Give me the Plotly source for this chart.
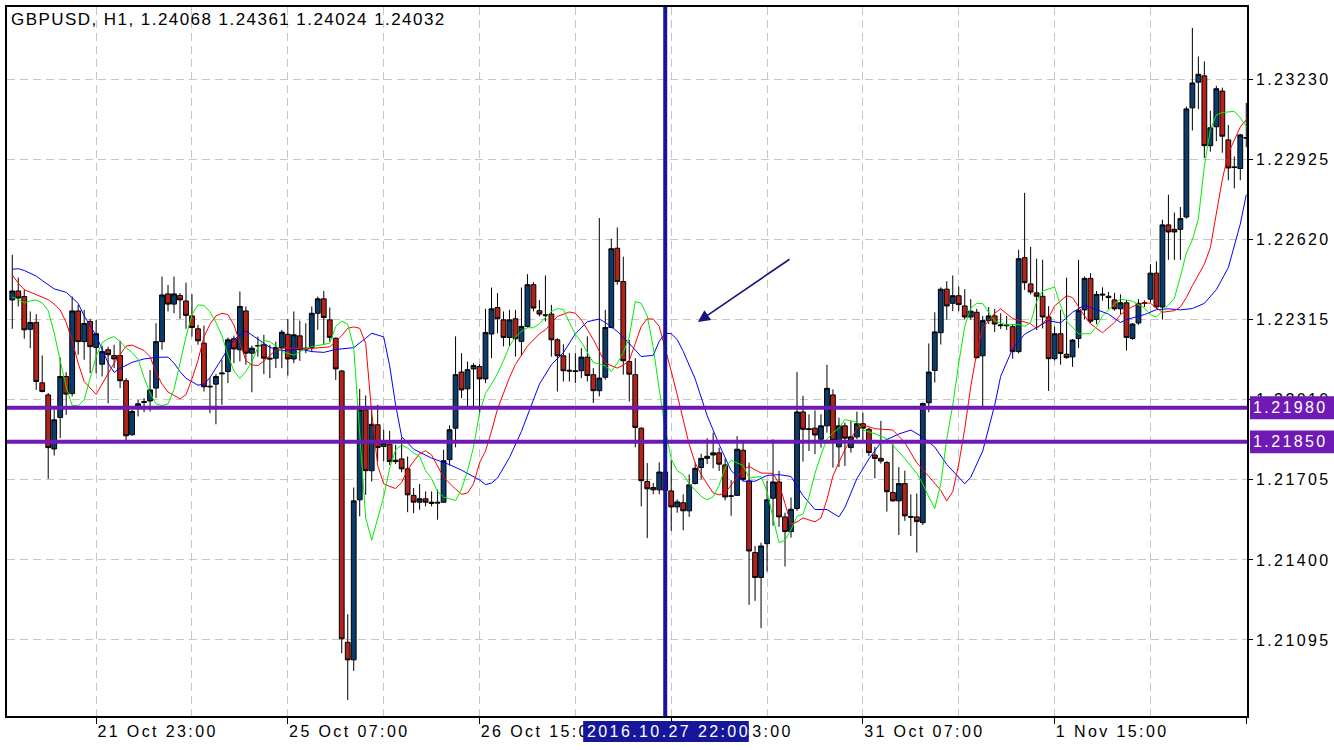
import plotly.graph_objects as go

chart_title = "GBPUSD, H1, 1.24068 1.24361 1.24024 1.24032"

opens = [
    1.22391, 1.22425, 1.22404, 1.22279, 1.22305, 1.22075, 1.22029, 1.21823, 1.21943, 1.22099,
    1.22034, 1.22349, 1.22232, 1.22309, 1.22210, 1.22146, 1.22201, 1.22179, 1.22179, 1.22083,
    1.21877, 1.21985, 1.22000, 1.22006, 1.22055, 1.22232, 1.22414, 1.22375, 1.22408, 1.22387,
    1.22330, 1.22281, 1.22226, 1.22062, 1.22070, 1.22109, 1.22118, 1.22243, 1.22201, 1.22349,
    1.22188, 1.22217, 1.22220, 1.22169, 1.22169, 1.22210, 1.22260, 1.22166, 1.22254, 1.22207,
    1.22210, 1.22340, 1.22395, 1.22315, 1.22245, 1.22120, 1.21086, 1.21019, 1.21629, 1.21972,
    1.21740, 1.21915, 1.21832, 1.21841, 1.21780, 1.21785, 1.21747, 1.21646, 1.21620, 1.21633,
    1.21615, 1.21620, 1.21620, 1.21782, 1.21902, 1.22116, 1.22052, 1.22128, 1.22137, 1.22090,
    1.22261, 1.22362, 1.22315, 1.22248, 1.22319, 1.22233, 1.22290, 1.22449, 1.22350, 1.22334,
    1.22337, 1.22239, 1.22178, 1.22123, 1.22121, 1.22121, 1.22173, 1.22106, 1.22045, 1.22096,
    1.22286, 1.22588, 1.22461, 1.22156, 1.22106, 1.21902, 1.21699, 1.21676, 1.21667, 1.21735,
    1.21663, 1.21602, 1.21618, 1.21587, 1.21691, 1.21752, 1.21795, 1.21800, 1.21808, 1.21762,
    1.21644, 1.21646, 1.21818, 1.21701, 1.21428, 1.21333, 1.21462, 1.21635, 1.21697, 1.21564,
    1.21508, 1.21596, 1.21964, 1.21900, 1.21902, 1.21860, 1.21911, 1.22029, 1.21831, 1.21911,
    1.21828, 1.21869, 1.21919, 1.21898, 1.21800, 1.21787, 1.21771, 1.21657, 1.21625, 1.21691,
    1.21565, 1.21564, 1.21542, 1.21999, 1.22122, 1.22266, 1.22432, 1.22378, 1.22407, 1.22368,
    1.22326, 1.22344, 1.22178, 1.22312, 1.22330, 1.22296, 1.22296, 1.22289, 1.22194, 1.22552,
    1.22452, 1.22418, 1.22405, 1.22326, 1.22167, 1.22262, 1.22184, 1.22174, 1.22244, 1.22353,
    1.22473, 1.22316, 1.22413, 1.22405, 1.22391, 1.22357, 1.22380, 1.22244, 1.22303, 1.22380,
    1.22394, 1.22493, 1.22364, 1.22677, 1.22660, 1.22660, 1.22707, 1.23123, 1.23221, 1.23245,
    1.22979, 1.23051, 1.23187, 1.23001, 1.22898, 1.22892, 1.23010,
]

highs = [
    1.22563, 1.22476, 1.22430, 1.22347, 1.22337, 1.22179, 1.22036, 1.21972, 1.22171, 1.22115,
    1.22404, 1.22372, 1.22353, 1.22319, 1.22315, 1.22217, 1.22213, 1.22220, 1.22235, 1.22093,
    1.21972, 1.22010, 1.22016, 1.22124, 1.22302, 1.22480, 1.22448, 1.22480, 1.22417, 1.22457,
    1.22413, 1.22296, 1.22293, 1.22095, 1.22108, 1.22163, 1.22248, 1.22255, 1.22423, 1.22366,
    1.22217, 1.22251, 1.22258, 1.22220, 1.22232, 1.22277, 1.22319, 1.22347, 1.22312, 1.22302,
    1.22366, 1.22404, 1.22425, 1.22362, 1.22248, 1.22124, 1.21193, 1.21676, 1.22052, 1.22027,
    1.21985, 1.21991, 1.21896, 1.21892, 1.21839, 1.21867, 1.21794, 1.21674, 1.21689, 1.21661,
    1.21661, 1.21668, 1.21820, 1.21913, 1.22252, 1.22188, 1.22156, 1.22150, 1.22146, 1.22357,
    1.22438, 1.22417, 1.22347, 1.22353, 1.22353, 1.22438, 1.22489, 1.22459, 1.22391, 1.22484,
    1.22372, 1.22245, 1.22222, 1.22188, 1.22188, 1.22207, 1.22252, 1.22131, 1.22703, 1.22353,
    1.22624, 1.22667, 1.22556, 1.22239, 1.22169, 1.21905, 1.21769, 1.21693, 1.21772, 1.21790,
    1.21780, 1.21631, 1.21650, 1.21726, 1.21771, 1.21805, 1.21864, 1.21885, 1.21828, 1.21787,
    1.21704, 1.21872, 1.21847, 1.21771, 1.21453, 1.21466, 1.21701, 1.21860, 1.21739, 1.21580,
    1.21638, 1.22116, 1.22025, 1.21955, 1.21970, 1.21955, 1.22144, 1.22050, 1.21942, 1.21923,
    1.21930, 1.21965, 1.21961, 1.21904, 1.21831, 1.21930, 1.21777, 1.21841, 1.21754, 1.21740,
    1.21650, 1.21653, 1.22000, 1.22225, 1.22344, 1.22439, 1.22462, 1.22484, 1.22442, 1.22432,
    1.22394, 1.22357, 1.22330, 1.22364, 1.22357, 1.22340, 1.22330, 1.22299, 1.22582, 1.22799,
    1.22593, 1.22548, 1.22544, 1.22367, 1.22289, 1.22353, 1.22476, 1.22242, 1.22544, 1.22480,
    1.22493, 1.22425, 1.22439, 1.22421, 1.22418, 1.22412, 1.22391, 1.22303, 1.22394, 1.22389,
    1.22527, 1.22538, 1.22697, 1.22792, 1.22724, 1.22745, 1.23128, 1.23428, 1.23319, 1.23300,
    1.23112, 1.23207, 1.23200, 1.23058, 1.22938, 1.23024, 1.23142,
]

lows = [
    1.22281, 1.22366, 1.22243, 1.22207, 1.22048, 1.22039, 1.21709, 1.21798, 1.21864, 1.21953,
    1.22023, 1.22182, 1.22163, 1.22112, 1.22112, 1.22099, 1.21997, 1.22131, 1.22055, 1.21855,
    1.21874, 1.21947, 1.21963, 1.21966, 1.22017, 1.22201, 1.22347, 1.22340, 1.22319, 1.22281,
    1.22251, 1.22220, 1.22042, 1.21959, 1.21917, 1.21991, 1.22074, 1.22150, 1.22156, 1.22144,
    1.22039, 1.22175, 1.22108, 1.22093, 1.22131, 1.22131, 1.22103, 1.22150, 1.22159, 1.22188,
    1.22194, 1.22277, 1.22220, 1.22232, 1.22086, 1.21044, 1.20866, 1.20977, 1.21566, 1.21648,
    1.21699, 1.21775, 1.21775, 1.21762, 1.21765, 1.21734, 1.21582, 1.21578, 1.21591, 1.21604,
    1.21604, 1.21553, 1.21617, 1.21760, 1.21829, 1.22017, 1.21985, 1.21985, 1.21953, 1.22074,
    1.22169, 1.22264, 1.22214, 1.22214, 1.22175, 1.22179, 1.22286, 1.22347, 1.22328, 1.22309,
    1.22175, 1.22042, 1.22080, 1.22080, 1.22074, 1.22093, 1.22080, 1.21998, 1.22023, 1.22087,
    1.22283, 1.22449, 1.22106, 1.22004, 1.21829, 1.21604, 1.21483, 1.21650, 1.21650, 1.21640,
    1.21511, 1.21580, 1.21513, 1.21564, 1.21688, 1.21707, 1.21765, 1.21749, 1.21739, 1.21627,
    1.21568, 1.21644, 1.21701, 1.21229, 1.21244, 1.21140, 1.21356, 1.21530, 1.21526, 1.21375,
    1.21485, 1.21587, 1.21775, 1.21815, 1.21803, 1.21828, 1.21885, 1.21752, 1.21754, 1.21758,
    1.21809, 1.21860, 1.21847, 1.21796, 1.21711, 1.21767, 1.21584, 1.21622, 1.21495, 1.21549,
    1.21491, 1.21428, 1.21533, 1.21963, 1.22076, 1.22221, 1.22316, 1.22348, 1.22348, 1.22316,
    1.22316, 1.22167, 1.21984, 1.22299, 1.22269, 1.22280, 1.22276, 1.22167, 1.22187, 1.22429,
    1.22412, 1.22276, 1.22282, 1.22044, 1.22160, 1.22144, 1.22167, 1.22136, 1.22208, 1.22316,
    1.22303, 1.22299, 1.22388, 1.22357, 1.22350, 1.22337, 1.22198, 1.22239, 1.22296, 1.22364,
    1.22380, 1.22357, 1.22316, 1.22544, 1.22544, 1.22544, 1.22701, 1.23037, 1.23119, 1.22932,
    1.22956, 1.22996, 1.22952, 1.22847, 1.22816, 1.22847, 1.22973,
]

closes = [
    1.22425, 1.22398, 1.22277, 1.22305, 1.22080, 1.22042, 1.21828, 1.21934, 1.22099, 1.22032,
    1.22349, 1.22232, 1.22301, 1.22213, 1.22262, 1.22194, 1.22182, 1.22166, 1.22083, 1.21873,
    1.21966, 1.21995, 1.22003, 1.22048, 1.22232, 1.22410, 1.22375, 1.22414, 1.22391, 1.22332,
    1.22286, 1.22235, 1.22060, 1.22060, 1.22099, 1.22112, 1.22239, 1.22204, 1.22366, 1.22188,
    1.22207, 1.22216, 1.22169, 1.22166, 1.22210, 1.22268, 1.22166, 1.22258, 1.22201, 1.22204,
    1.22340, 1.22395, 1.22324, 1.22248, 1.22128, 1.21099, 1.21019, 1.21625, 1.21972, 1.21740,
    1.21917, 1.21828, 1.21845, 1.21775, 1.21775, 1.21747, 1.21648, 1.21620, 1.21633, 1.21620,
    1.21620, 1.21617, 1.21778, 1.21896, 1.22106, 1.22048, 1.22125, 1.22141, 1.22090, 1.22267,
    1.22357, 1.22319, 1.22248, 1.22315, 1.22243, 1.22290, 1.22449, 1.22360, 1.22337, 1.22332,
    1.22239, 1.22178, 1.22121, 1.22120, 1.22118, 1.22173, 1.22103, 1.22045, 1.22093, 1.22286,
    1.22586, 1.22461, 1.22159, 1.22108, 1.21905, 1.21702, 1.21671, 1.21667, 1.21735, 1.21665,
    1.21602, 1.21621, 1.21587, 1.21686, 1.21749, 1.21787, 1.21787, 1.21808, 1.21765, 1.21640,
    1.21643, 1.21822, 1.21707, 1.21434, 1.21333, 1.21453, 1.21629, 1.21697, 1.21564, 1.21508,
    1.21593, 1.21964, 1.21898, 1.21897, 1.21876, 1.21911, 1.22054, 1.21856, 1.21911, 1.21864,
    1.21869, 1.21919, 1.21902, 1.21809, 1.21787, 1.21777, 1.21660, 1.21625, 1.21691, 1.21568,
    1.21563, 1.21546, 1.21996, 1.22116, 1.22269, 1.22432, 1.22368, 1.22407, 1.22373, 1.22326,
    1.22348, 1.22171, 1.22312, 1.22330, 1.22299, 1.22293, 1.22293, 1.22194, 1.22548, 1.22457,
    1.22421, 1.22405, 1.22326, 1.22167, 1.22262, 1.22187, 1.22171, 1.22238, 1.22350, 1.22473,
    1.22310, 1.22412, 1.22410, 1.22400, 1.22357, 1.22380, 1.22248, 1.22299, 1.22378, 1.22378,
    1.22493, 1.22364, 1.22677, 1.22650, 1.22650, 1.22701, 1.23119, 1.23218, 1.23251, 1.22979,
    1.23047, 1.23196, 1.23015, 1.22894, 1.22896, 1.23020, 1.23008,
]

# Alligator lines (at bar indices)
jaw_bars = [0, 1, 2, 4, 5, 7, 9, 10, 11, 12, 14, 16, 17, 18, 20, 22, 24, 26, 27, 28, 29, 31, 32, 33,
            35, 37, 39, 41, 43, 45, 48, 50, 52, 54, 57, 59, 60, 62, 63, 64, 65, 67, 70, 73, 75, 78,
            79, 80, 81, 83, 85, 88, 90, 92, 94, 96, 98, 99, 101, 103, 105, 107, 108, 109, 110, 111,
            112, 114, 116, 118, 120, 122, 124, 126, 128, 130, 132, 134, 136, 138, 139, 141, 143, 145,
            148, 150, 152, 154, 156, 159, 160, 162, 164, 165, 167, 169, 171, 173, 175, 177, 179, 181,
            183, 185, 186, 189, 191, 193, 195, 197, 199, 201, 203, 205, 206]
jaw_vals = [1.22508, 1.22510, 1.22503, 1.22482, 1.22465, 1.22433, 1.22420, 1.22400, 1.22378, 1.22330,
            1.22255, 1.22150, 1.22115, 1.22130, 1.22153, 1.22166, 1.22172, 1.22173, 1.22150, 1.22118,
            1.22092, 1.22066, 1.22070, 1.22095, 1.22165, 1.22240, 1.22273, 1.22242, 1.22210, 1.22198,
            1.22204, 1.22194, 1.22191, 1.22202, 1.22209, 1.22245, 1.22264, 1.22250, 1.22140, 1.21990,
            1.21870, 1.21822, 1.21788, 1.21763, 1.21742, 1.21705, 1.21687, 1.21693, 1.21712, 1.21790,
            1.21890, 1.22070, 1.22144, 1.22190, 1.22262, 1.22308, 1.22318, 1.22305, 1.22271, 1.22225,
            1.22175, 1.22180, 1.22233, 1.22264, 1.22262, 1.22240, 1.22195, 1.22090, 1.21950, 1.21840,
            1.21740, 1.21700, 1.21700, 1.21722, 1.21725, 1.21718, 1.21645, 1.21592, 1.21592, 1.21564,
            1.21600, 1.21710, 1.21785, 1.21848, 1.21880, 1.21895, 1.21868, 1.21830, 1.21764, 1.21690,
            1.21715, 1.21815, 1.21990, 1.22100, 1.22205, 1.22260, 1.22287, 1.22312, 1.22303, 1.22344,
            1.22371, 1.22355, 1.22337, 1.22305, 1.22316, 1.22335, 1.22354, 1.22357, 1.22353, 1.22358,
            1.22378, 1.22430, 1.22514, 1.22680, 1.22792]

teeth_bars = [0, 1, 2, 4, 6, 7, 8, 9, 10, 11, 12, 14, 15, 17, 19, 20, 22, 23, 24, 25, 26, 28, 29, 30,
              31, 32, 33, 34, 35, 36, 37, 38, 39, 40, 41, 42, 43, 44, 45, 47, 49, 51, 53, 55, 56, 57,
              58, 59, 60, 61, 62, 63, 64, 65, 66, 68, 69, 70, 71, 72, 74, 75, 76, 77, 78, 79, 80, 81,
              83, 84, 86, 88, 89, 91, 93, 94, 95, 97, 99, 101, 102, 103, 104, 105, 106, 107, 108, 109,
              110, 111, 112, 113, 114, 115, 116, 117, 118, 119, 120, 122, 123, 124, 125, 127, 128, 129,
              130, 131, 132, 134, 135, 136, 137, 138, 139, 141, 142, 144, 147, 149, 151, 153, 155, 156,
              157, 158, 159, 160, 161, 162, 164, 165, 166, 167, 170, 171, 173, 174, 176, 177, 179, 180,
              182, 184, 185, 187, 189, 190, 192, 194, 195, 196, 197, 199, 200, 201, 202, 203, 205, 206]
teeth_vals = [1.22486, 1.22455, 1.22430, 1.22410, 1.22392, 1.22375, 1.22353, 1.22305, 1.22235, 1.22150,
              1.22080, 1.22031, 1.22070, 1.22150, 1.22215, 1.22219, 1.22198, 1.22175, 1.22115, 1.22070,
              1.22040, 1.22014, 1.22030, 1.22090, 1.22160, 1.22250, 1.22298, 1.22330, 1.22340, 1.22335,
              1.22295, 1.22230, 1.22160, 1.22143, 1.22141, 1.22158, 1.22180, 1.22200, 1.22207, 1.22207,
              1.22204, 1.22209, 1.22212, 1.22255, 1.22283, 1.22288, 1.22283, 1.22225, 1.21960, 1.21760,
              1.21690, 1.21680, 1.21672, 1.21695, 1.21745, 1.21805, 1.21816, 1.21800, 1.21760, 1.21715,
              1.21670, 1.21650, 1.21655, 1.21690, 1.21770, 1.21815, 1.21890, 1.21975, 1.22095, 1.22145,
              1.22215, 1.22262, 1.22277, 1.22328, 1.22345, 1.22340, 1.22315, 1.22240, 1.22150, 1.22131,
              1.22142, 1.22160, 1.22225, 1.22290, 1.22319, 1.22318, 1.22290, 1.22210, 1.22120, 1.22030,
              1.21930, 1.21840, 1.21770, 1.21725, 1.21690, 1.21655, 1.21648, 1.21655, 1.21685, 1.21745,
              1.21756, 1.21745, 1.21731, 1.21730, 1.21690, 1.21615, 1.21535, 1.21545, 1.21560, 1.21545,
              1.21560, 1.21630, 1.21720, 1.21772, 1.21820, 1.21902, 1.21915, 1.21900, 1.21895, 1.21847,
              1.21770, 1.21718, 1.21665, 1.21625, 1.21660, 1.21765, 1.21900, 1.22060, 1.22190, 1.22285,
              1.22340, 1.22357, 1.22340, 1.22320, 1.22300, 1.22282, 1.22323, 1.22368, 1.22407, 1.22400,
              1.22330, 1.22300, 1.22266, 1.22305, 1.22335, 1.22366, 1.22380, 1.22378, 1.22344, 1.22350,
              1.22364, 1.22400, 1.22445, 1.22527, 1.22590, 1.22720, 1.22850, 1.22950, 1.23050, 1.23078]

lips_bars = [0, 1, 2, 3, 4, 5, 6, 7, 8, 9, 10, 11, 12, 13, 14, 15, 16, 17, 18, 19, 20, 21, 22, 23, 24,
             25, 26, 27, 28, 29, 30, 31, 32, 33, 34, 35, 36, 37, 38, 39, 40, 41, 42, 43, 44, 45, 47, 48,
             49, 50, 52, 53, 54, 55, 56, 57, 58, 59, 60, 61, 62, 63, 64, 65, 66, 67, 68, 69, 70, 71, 72,
             74, 75, 76, 77, 78, 79, 80, 81, 82, 83, 84, 85, 86, 87, 88, 89, 90, 91, 92, 93, 94, 95, 96,
             97, 98, 99, 100, 101, 102, 103, 104, 105, 106, 107, 108, 109, 110, 111, 112, 113, 115, 116,
             117, 118, 119, 120, 122, 123, 125, 126, 127, 128, 129, 130, 131, 132, 133, 134, 135, 136,
             137, 138, 139, 141, 142, 144, 146, 147, 149, 151, 152, 153, 154, 155, 156, 157, 158, 159,
             160, 161, 162, 164, 166, 168, 169, 170, 171, 172, 174, 175, 176, 178, 180, 181, 182, 184,
             185, 187, 189, 190, 191, 193, 194, 195, 196, 197, 198, 199, 200, 201, 202, 204, 205, 206]
lips_vals = [1.22402, 1.22393, 1.22380, 1.22387, 1.22391, 1.22380, 1.22350, 1.22265, 1.22160, 1.22060,
             1.21988, 1.21988, 1.22010, 1.22092, 1.22175, 1.22228, 1.22243, 1.22251, 1.22232, 1.22209,
             1.22190, 1.22165, 1.22095, 1.22035, 1.21995, 1.21988, 1.21995, 1.22050, 1.22156, 1.22250,
             1.22335, 1.22372, 1.22370, 1.22346, 1.22305, 1.22255, 1.22180, 1.22120, 1.22092, 1.22118,
             1.22155, 1.22210, 1.22236, 1.22232, 1.22215, 1.22195, 1.22180, 1.22194, 1.22206, 1.22213,
             1.22220, 1.22226, 1.22290, 1.22310, 1.22298, 1.22210, 1.21880, 1.21560, 1.21475, 1.21555,
             1.21640, 1.21750, 1.21820, 1.21838, 1.21826, 1.21808, 1.21794, 1.21740, 1.21710, 1.21660,
             1.21640, 1.21626, 1.21670, 1.21740, 1.21830, 1.21960, 1.22035, 1.22070, 1.22110, 1.22160,
             1.22215, 1.22250, 1.22271, 1.22285, 1.22285, 1.22300, 1.22325, 1.22347, 1.22358, 1.22355,
             1.22305, 1.22260, 1.22230, 1.22190, 1.22152, 1.22147, 1.22140, 1.22118, 1.22150, 1.22190,
             1.22250, 1.22385, 1.22378, 1.22330, 1.22210, 1.22050, 1.21900, 1.21785, 1.21740, 1.21725,
             1.21690, 1.21642, 1.21629, 1.21640, 1.21685, 1.21750, 1.21780, 1.21760, 1.21712, 1.21718,
             1.21660, 1.21560, 1.21466, 1.21475, 1.21515, 1.21566, 1.21575, 1.21640, 1.21730, 1.21800,
             1.21860, 1.21885, 1.21902, 1.21935, 1.21925, 1.21895, 1.21881, 1.21862, 1.21838, 1.21786,
             1.21730, 1.21690, 1.21640, 1.21596, 1.21690, 1.21860, 1.21990, 1.22150, 1.22290, 1.22360,
             1.22378, 1.22377, 1.22310, 1.22296, 1.22298, 1.22290, 1.22305, 1.22385, 1.22425, 1.22440,
             1.22370, 1.22310, 1.22262, 1.22262, 1.22290, 1.22330, 1.22375, 1.22394, 1.22386, 1.22360,
             1.22334, 1.22326, 1.22371, 1.22398, 1.22480, 1.22570, 1.22620, 1.22700, 1.22900, 1.23040,
             1.23096, 1.23105, 1.23110, 1.23085, 1.23052]

tick_bars = [14, 46, 78, 110, 142, 174, 206]
tick_labels = ["21 Oct 23:00", "25 Oct 07:00", "26 Oct 15:00", "27 Oct 23:00",
               "31 Oct 07:00", "1 Nov 15:00", ""]
price_ticks = [1.23230, 1.22925, 1.22620, 1.22315, 1.22010, 1.21705, 1.21400, 1.21095]
level_prices = [1.21980, 1.21850]
marker_bar = 109
marker_label = "2016.10.27 22:00"

bars = list(range(len(opens)))

FONT = "Liberation Sans, Arial, Helvetica, sans-serif"
GRID = "#c6c6c6"
PURPLE = "#6f1ab5"
NAVY = "#16169a"

x_range = [-0.88, 206.12]
y_range = [1.20805, 1.235075]
px_per_price = 711 / (y_range[1] - y_range[0])

fig = go.Figure()

fig.add_trace(go.Candlestick(
    x=bars, open=opens, high=highs, low=lows, close=closes,
    increasing=dict(fillcolor="#0b3c6e", line=dict(color="#000000", width=1)),
    decreasing=dict(fillcolor="#b3231b", line=dict(color="#000000", width=1)),
    whiskerwidth=0, showlegend=False, hoverinfo="skip",
))

for bx, vals, col in [(jaw_bars, jaw_vals, "#0000ff"),
                      (teeth_bars, teeth_vals, "#ff0000"),
                      (lips_bars, lips_vals, "#00ee00")]:
    fig.add_trace(go.Scatter(x=bx, y=vals, mode="lines",
                             line=dict(color=col, width=1),
                             showlegend=False, hoverinfo="skip"))

shapes = []
for lv in level_prices:
    shapes.append(dict(type="line", xref="paper", yref="y", x0=0, x1=1, y0=lv, y1=lv,
                       line=dict(color=PURPLE, width=4), layer="above"))
    half = 11.5 / px_per_price
    shapes.append(dict(type="rect", xref="paper", yref="y", x0=1.0024, x1=1.08,
                       y0=lv - half, y1=lv + half, fillcolor=PURPLE, line=dict(width=0),
                       layer="above"))
shapes.append(dict(type="line", xref="x", yref="paper", x0=marker_bar, x1=marker_bar,
                   y0=0, y1=1, line=dict(color=NAVY, width=4), layer="above"))
shapes.append(dict(type="rect", xref="x", yref="paper", x0=95.3, x1=122.95,
                   y0=-0.0366, y1=-0.0070, fillcolor=NAVY, line=dict(width=0),
                   layer="above"))

annotations = [
    dict(text=chart_title, xref="paper", yref="paper", x=0.0016, y=0.9817,
         xanchor="left", yanchor="middle", align="left", showarrow=False,
         font=dict(family=FONT, size=17, color="#000000")),
    dict(text="", x=114.45, y=1.22307, xref="x", yref="y",
         ax=130, ay=1.22550, axref="x", ayref="y",
         showarrow=True, arrowhead=2, arrowsize=1.5, arrowwidth=1.6,
         arrowcolor="#15157a", standoff=0),
    dict(text=marker_label, xref="x", yref="paper", x=95.6, y=-0.0218,
         xanchor="left", yanchor="middle", align="left", showarrow=False,
         font=dict(family=FONT, size=16, color="#ffffff")),
]
for lv in level_prices:
    annotations.append(dict(text=f"{lv:.5f}", xref="paper", yref="y", x=1.0035, y=lv,
                            xanchor="left", yanchor="middle", align="left", showarrow=False,
                            font=dict(family=FONT, size=16, color="#ffffff")))

fig.update_layout(
    width=1334, height=750,
    margin=dict(l=5, r=87, t=5, b=34),
    paper_bgcolor="#ffffff", plot_bgcolor="#ffffff",
    font=dict(family=FONT, size=16, color="#000000"),
    showlegend=False,
    boxgap=0.2, boxgroupgap=0,
    shapes=shapes, annotations=annotations,
    hovermode=False,
)

fig.update_xaxes(
    range=x_range, rangeslider=dict(visible=False),
    tickmode="array", tickvals=tick_bars, ticktext=tick_labels,
    ticks="outside", ticklen=6, tickcolor="#000000", tickwidth=1,
    ticklabelposition="outside right",
    tickfont=dict(family=FONT, size=16, color="#000000"),
    showgrid=True, gridcolor=GRID, griddash="8px,5px", gridwidth=1,
    minor=dict(tickmode="linear", tick0=14, dtick=16, showgrid=True,
               gridcolor=GRID, griddash="8px,5px", gridwidth=1, ticks=""),
    showline=True, linecolor="#000000", linewidth=1.5, mirror=True,
    zeroline=False,
)
fig.update_yaxes(
    range=y_range, side="right",
    tickmode="array", tickvals=price_ticks, ticktext=[f"{p:.5f}" for p in price_ticks],
    ticks="outside", ticklen=4, tickcolor="#000000", tickwidth=1,
    tickfont=dict(family=FONT, size=16, color="#000000"),
    showgrid=True, gridcolor=GRID, griddash="8px,5px", gridwidth=1,
    showline=True, linecolor="#000000", linewidth=1.5, mirror=True,
    zeroline=False,
)

post_js = """
document.documentElement.style.margin = '0';
document.body.style.margin = '0';
document.body.style.padding = '0';
document.body.style.overflow = 'hidden';
var gd = document.getElementById('{plot_id}');
function spaceText(){
  gd.querySelectorAll('.xtick text, .ytick text').forEach(function(t){ t.style.letterSpacing = '2.4px'; });
  gd.querySelectorAll('.annotation-text').forEach(function(t, i){
    t.style.letterSpacing = (i === 0 ? '1.45px' : '2.4px');
  });
}
spaceText();
gd.on('plotly_afterplot', spaceText);
"""

fig.write_html("out.html", post_script=post_js, config={"displayModeBar": False})
